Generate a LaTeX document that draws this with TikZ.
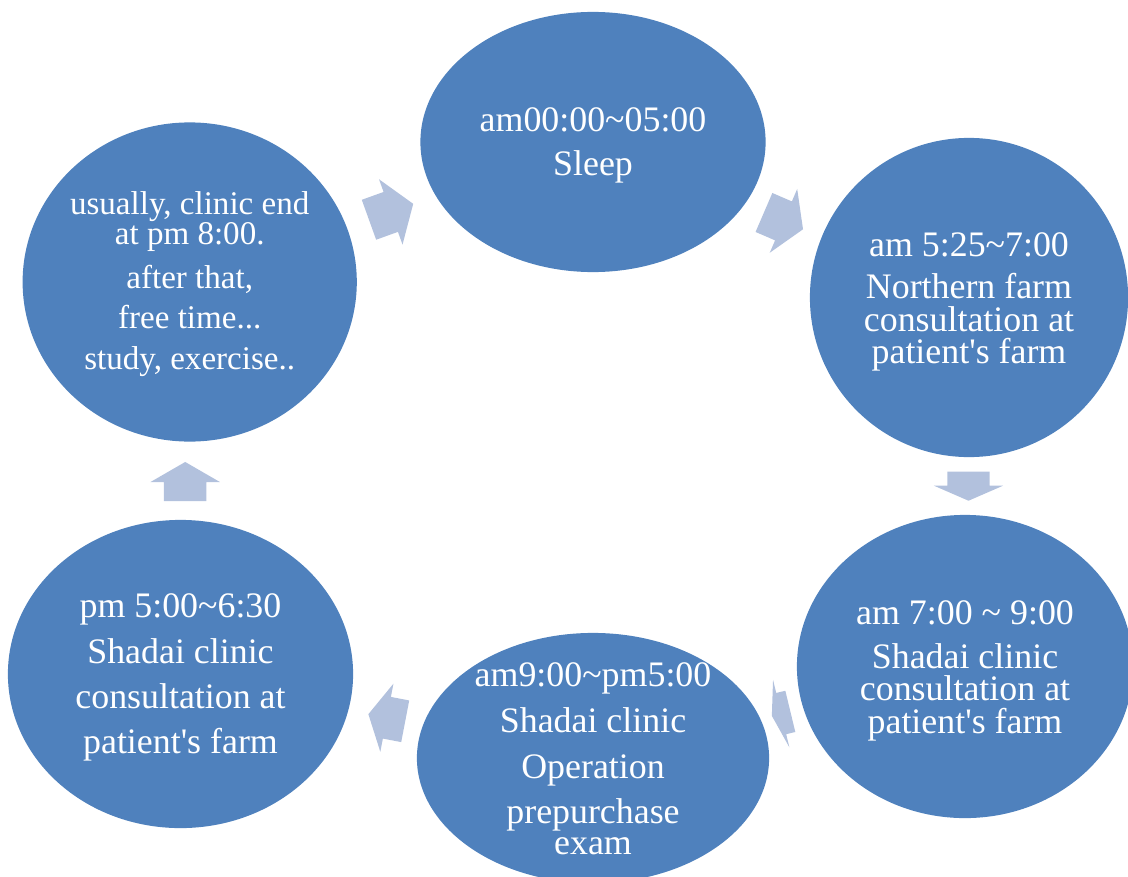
\documentclass[tikz,border=0pt]{standalone}
\usepackage{fontspec}
\setmainfont{Liberation Serif}
\usepackage{tikz}
\usetikzlibrary{shapes.geometric, shapes.arrows}
\definecolor{colorPhase}{RGB}{79,129,189}
\definecolor{colorArrow}{RGB}{178,193,221}
\tikzset{phase/.style={ellipse, fill=colorPhase, inner sep=0pt},
  phasetext/.style={text=white, inner sep=0pt, align=center, font=\fontsize{10.2}{9.2}\selectfont},
  cyclearrow/.style={single arrow, fill=colorArrow, anchor=tail, inner xsep=0pt, inner ysep=0.205cm, minimum width=0pt, single arrow head extend=0.135cm, single arrow head indent=0pt}}
\newcommand{\tld}{\textasciitilde}
\newcommand{\apos}{\textquotesingle}

\begin{document}
\begin{tikzpicture}[x=0.01cm, y=-0.01cm]
\clip (0,0) rectangle (1128,876);
\node[phase, minimum width=3.45cm, minimum height=2.60cm] (sleep) at (593,142) {};
\node[phase, minimum width=3.18cm, minimum height=3.19cm] (farmEarly) at (969,297.5) {};
\node[phase, minimum width=3.36cm, minimum height=3.03cm] (clinicAm) at (965,666.5) {};
\node[phase, minimum width=3.52cm, minimum height=2.50cm] (operation) at (593,758) {};
\node[phase, minimum width=3.45cm, minimum height=3.08cm] (clinicPm) at (180.5,674) {};
\node[phase, minimum width=3.34cm, minimum height=3.19cm] (freeTime) at (189.7,282) {};
\node[phasetext] (sleepText) at ([yshift=-1pt]sleep.center) {am00:00\tld05:00\\[3.4pt]Sleep};
\node[phasetext] (farmEarlyText) at ([yshift=-1.2pt]farmEarly.center) {am 5:25\tld7:00\\[3pt]Northern farm\\consultation at\\patient\apos s farm};
\node[phasetext] (clinicAmText) at ([yshift=-1.2pt]clinicAm.center) {am 7:00 \tld{} 9:00\\[3.3pt]Shadai clinic\\consultation at\\patient\apos s farm};
\node[phasetext] (operationText) at ([yshift=-0.2pt]operation.center) {am9:00\tld pm5:00\\[2.8pt]Shadai clinic\\[3.9pt]Operation\\[2.5pt]prepurchase\\[-0.3pt]exam};
\node[phasetext] (clinicPmText) at ([yshift=-1pt]clinicPm.center) {pm 5:00\tld6:30\\[3pt]Shadai clinic\\[3.6pt]consultation at\\[3.6pt]patient\apos s farm};
\node[phasetext, font=\fontsize{9.4}{9.2}\selectfont] (freeTimeText) at ([yshift=-0.6pt]freeTime.center) {usually, clinic end\\[-0.8pt]at pm 8:00.\\[3.3pt]after that,\\[2.2pt]free time...\\[2.5pt]study, exercise..};
\node[cyclearrow, minimum height=0.47cm, single arrow tip angle=111, rotate=19.8] (a1) at (368.3,220) {};
\node[cyclearrow, minimum height=0.425cm, single arrow tip angle=117, rotate=-23.3] (a2) at (763.3,212.2) {};
\node[cyclearrow, minimum height=0.29cm, single arrow tip angle=133, rotate=-90] (a3) at (968.5,471) {};
\node[cyclearrow, minimum height=0.19cm, single arrow tip angle=149, rotate=193.6] (a4) at (791,711.2) {};
\node[cyclearrow, minimum height=0.375cm, single arrow tip angle=123, rotate=169.1] (a5) at (405.9,721.4) {};
\node[cyclearrow, minimum height=0.39cm, single arrow tip angle=120, rotate=90] (a6) at (185.2,501.7) {};
\end{tikzpicture}
\end{document}
